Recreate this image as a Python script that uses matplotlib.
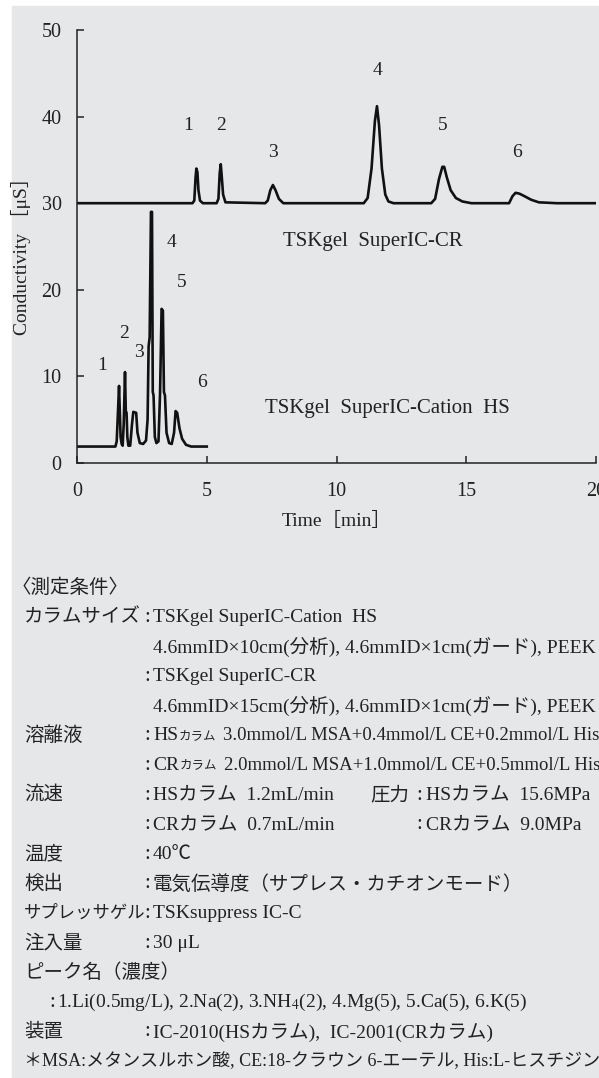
import matplotlib
matplotlib.use('Agg')
import matplotlib.pyplot as plt
from matplotlib.patches import Rectangle

plt.rcParams['font.family'] = ['Liberation Serif', 'Noto Sans CJK JP', 'DejaVu Serif']
plt.rcParams['mathtext.fontset'] = 'stix'

# TSKgel SuperIC-CR trace (time min, conductivity uS)
cr_t = [0, 4.45, 4.52, 4.57, 4.60, 4.64, 4.68, 4.74, 4.85,
        5.38, 5.45, 5.50, 5.54, 5.58, 5.63, 5.72,
        7.25, 7.35, 7.45, 7.55, 7.65, 7.78, 7.95,
        11.05, 11.2, 11.35, 11.48, 11.56, 11.64, 11.75, 11.88, 12.0, 12.2,
        13.65, 13.8, 13.95, 14.08, 14.15, 14.25, 14.4, 14.6, 14.85, 15.2,
        16.65, 16.78, 16.9, 17.05, 17.25, 17.5, 17.8, 18.5, 20.0]
cr_y = [30.0, 30.0, 30.3, 33.0, 34.0, 33.6, 31.5, 30.3, 30.0,
        30.0, 30.5, 33.5, 34.5, 33.0, 31.0, 30.1,
        30.0, 30.3, 31.5, 32.1, 31.5, 30.5, 30.0,
        30.0, 30.6, 34.0, 39.5, 41.2, 39.0, 34.0, 31.0, 30.2, 30.0,
        30.0, 30.5, 32.8, 34.2, 34.2, 33.0, 31.5, 30.6, 30.2, 30.0,
        30.0, 30.8, 31.2, 31.1, 30.8, 30.4, 30.1, 30.0, 30.0]

# TSKgel SuperIC-Cation HS trace
hs_t = [0, 1.48, 1.53, 1.58, 1.62, 1.65, 1.68, 1.72, 1.76,
        1.80, 1.85, 1.88, 1.91, 1.94, 1.98,
        2.05, 2.12, 2.17, 2.28, 2.33, 2.42, 2.55,
        2.66, 2.72, 2.76, 2.80, 2.85, 2.89, 2.92, 2.95, 3.0, 3.06,
        3.14, 3.2, 3.26, 3.31, 3.35, 3.39, 3.45, 3.55,
        3.65, 3.74, 3.8, 3.86, 3.95, 4.05, 4.2, 4.4, 5.0]
hs_y = [1.9, 1.9, 2.5, 6.0, 8.9, 6.0, 3.0, 2.2, 2.0,
        4.5, 10.5, 6.0, 5.8, 3.0, 2.0,
        2.0, 4.5, 5.9, 5.8, 3.5, 2.3, 2.2,
        2.6, 5.0, 13.5, 14.5, 29.0, 29.0, 8.2, 7.8, 3.0, 2.3,
        2.5, 8.0, 17.8, 17.6, 8.2, 7.8, 3.5, 2.3,
        2.2, 3.5, 6.0, 5.8, 4.0, 2.8, 2.1, 1.9, 1.9]

peak_names = ['1', '2', '3', '4', '5', '6']
cr_label_t = [4.27, 5.54, 7.54, 11.58, 14.08, 16.96]
cr_label_y = [39.0, 39.0, 35.8, 45.3, 39.0, 35.8]
hs_label_t = [0.96, 1.81, 2.38, 3.65, 4.04, 4.8]
hs_label_y = [11.3, 15.0, 12.8, 25.5, 20.8, 9.3]

x_ticks = [0, 5, 10, 15, 20]
y_ticks = [0, 10, 20, 30, 40, 50]

# condition rows: (row index, label, value)
cond_rows = [
    (1, 'カラムサイズ', 'TSKgel SuperIC-Cation  HS'),
    (3, '', 'TSKgel SuperIC-CR'),
    (7, '流速', 'HSカラム  1.2mL/min'),
    (8, '', 'CRカラム  0.7mL/min'),
    (9, '温度', '40℃'),
    (10, '検出', '電気伝導度（サプレス・カチオンモード）'),
    (11, 'サプレッサゲル', 'TSKsuppress IC-C'),
    (12, '注入量', '30 μL'),
    (15, '装置', 'IC-2010(HSカラム),  IC-2001(CRカラム)'),
]
size_rows = [
    (2, '4.6mmID×10cm(分析), 4.6mmID×1cm(ガード), PEEK'),
    (4, '4.6mmID×15cm(分析), 4.6mmID×1cm(ガード), PEEK'),
]
eluent_rows = [
    (5, '溶離液', 'HS', '3.0mmol/L MSA+0.4mmol/L CE+0.2mmol/L His'),
    (6, '', 'CR', '2.0mmol/L MSA+1.0mmol/L CE+0.5mmol/L His'),
]
pressure_rows = [
    (7, '圧力', 'HSカラム  15.6MPa'),
    (8, '', 'CRカラム  9.0MPa'),
]
peak_line = '1.Li(0.5mg/L), 2.Na(2), 3.NH$_4$(2), 4.Mg(5), 5.Ca(5), 6.K(5)'
note_line = '＊MSA:メタンスルホン酸, CE:18-クラウン 6-エーテル, His:L-ヒスチジン'

W, H = 599, 1078
fig = plt.figure(figsize=(W / 100, H / 100), dpi=100)
fig.patches.append(Rectangle((12 / W, 0), 1, 1 - 6 / H, transform=fig.transFigure,
                             color='#e6e7e9', zorder=-10))

ax = fig.add_axes([77 / W, 1 - 463 / H, (596 - 77) / W, (463 - 30) / H])
ax.set_zorder(2)
ax.patch.set_alpha(0)
ax.plot(cr_t, cr_y, color='#111111', lw=1.9, solid_joinstyle='round')
ax.plot(hs_t, hs_y, color='#111111', lw=1.9, solid_joinstyle='round')

for n, t, y in zip(peak_names, cr_label_t, cr_label_y):
    ax.text(t, y, n, ha='center', va='center', fontsize=14, color='#222222')
for n, t, y in zip(peak_names, hs_label_t, hs_label_y):
    ax.text(t, y, n, ha='center', va='center', fontsize=14, color='#222222')
ax.text(11.4, 25.6, 'TSKgel  SuperIC-CR', ha='center', va='center', fontsize=15, color='#222222')
ax.text(11.96, 6.3, 'TSKgel  SuperIC-Cation  HS', ha='center', va='center', fontsize=15, color='#222222')

ax.set_xlim(0, 20)
ax.set_ylim(0, 50)
ax.set_xticks(x_ticks)
ax.set_yticks(y_ticks)
for s in ['top', 'right']:
    ax.spines[s].set_visible(False)
for s in ['left', 'bottom']:
    ax.spines[s].set_linewidth(1.1)
    ax.spines[s].set_color('#222222')
ax.tick_params(axis='both', direction='in', length=5, width=1.1, colors='#222222',
               labelsize=14.5)
ax.tick_params(axis='y', pad=11)
ax.tick_params(axis='x', pad=14)
ax.set_xlabel('Time［min］', fontsize=14, color='#222222')
ax.xaxis.set_label_coords((337 - 77) / (596 - 77), -(512 - 463) / (463 - 30))
ax.set_ylabel('Conductivity ［μS］', fontsize=14, color='#222222')
ax.yaxis.set_label_coords(-(77 - 31) / (596 - 77), 0.49)

fs = 14
col = '#222222'
x_lab, x_colon, x_val = 24, 144, 153
def fy(i):
    return 1 - (588 + 29.6 * i) / H

renderer = fig.canvas.get_renderer()

fig.text(12 / W, fy(0), '〈測定条件〉', fontsize=fs, va='center', color=col)
for i, lab, val in cond_rows:
    if lab:
        fig.text(x_lab / W, fy(i), lab, fontsize=fs if len(lab) < 7 else 12.5, va='center', color=col)
    fig.text(x_colon / W, fy(i), ':', fontsize=fs + 1, va='center', color=col)
    fig.text(x_val / W, fy(i), val, fontsize=fs, va='center', color=col)
for i, lab, col_name, val in eluent_rows:
    if lab:
        fig.text(x_lab / W, fy(i), lab, fontsize=fs, va='center', color=col)
    fig.text(x_colon / W, fy(i), ':', fontsize=fs + 1, va='center', color=col)
    t1 = fig.text(x_val / W, fy(i), col_name, fontsize=fs, va='center', color=col)
    x1 = t1.get_window_extent(renderer).x1 + 1
    t2 = fig.text(x1 / W, fy(i), 'カラム', fontsize=9, va='center', color=col)
    x2 = t2.get_window_extent(renderer).x1 + 6
    fig.text(x2 / W, fy(i), val, fontsize=13.5, va='center', color=col)
for i, val in size_rows:
    fig.text(x_val / W, fy(i), val, fontsize=fs, va='center', color=col)
for i, lab, val in pressure_rows:
    if lab:
        fig.text(370 / W, fy(i), lab, fontsize=fs, va='center', color=col)
    fig.text(416 / W, fy(i), ':', fontsize=fs + 1, va='center', color=col)
    fig.text(426 / W, fy(i), val, fontsize=fs, va='center', color=col)
fig.text(x_lab / W, fy(13), 'ピーク名（濃度）', fontsize=fs, va='center', color=col)
fig.text(49 / W, fy(14), ':', fontsize=fs + 1, va='center', color=col)
fig.text(57 / W, fy(14), peak_line, fontsize=fs, va='center', color=col)
fig.text(x_lab / W, fy(16), note_line, fontsize=13, va='center', color=col)

fig.savefig('out.png', dpi=100)
